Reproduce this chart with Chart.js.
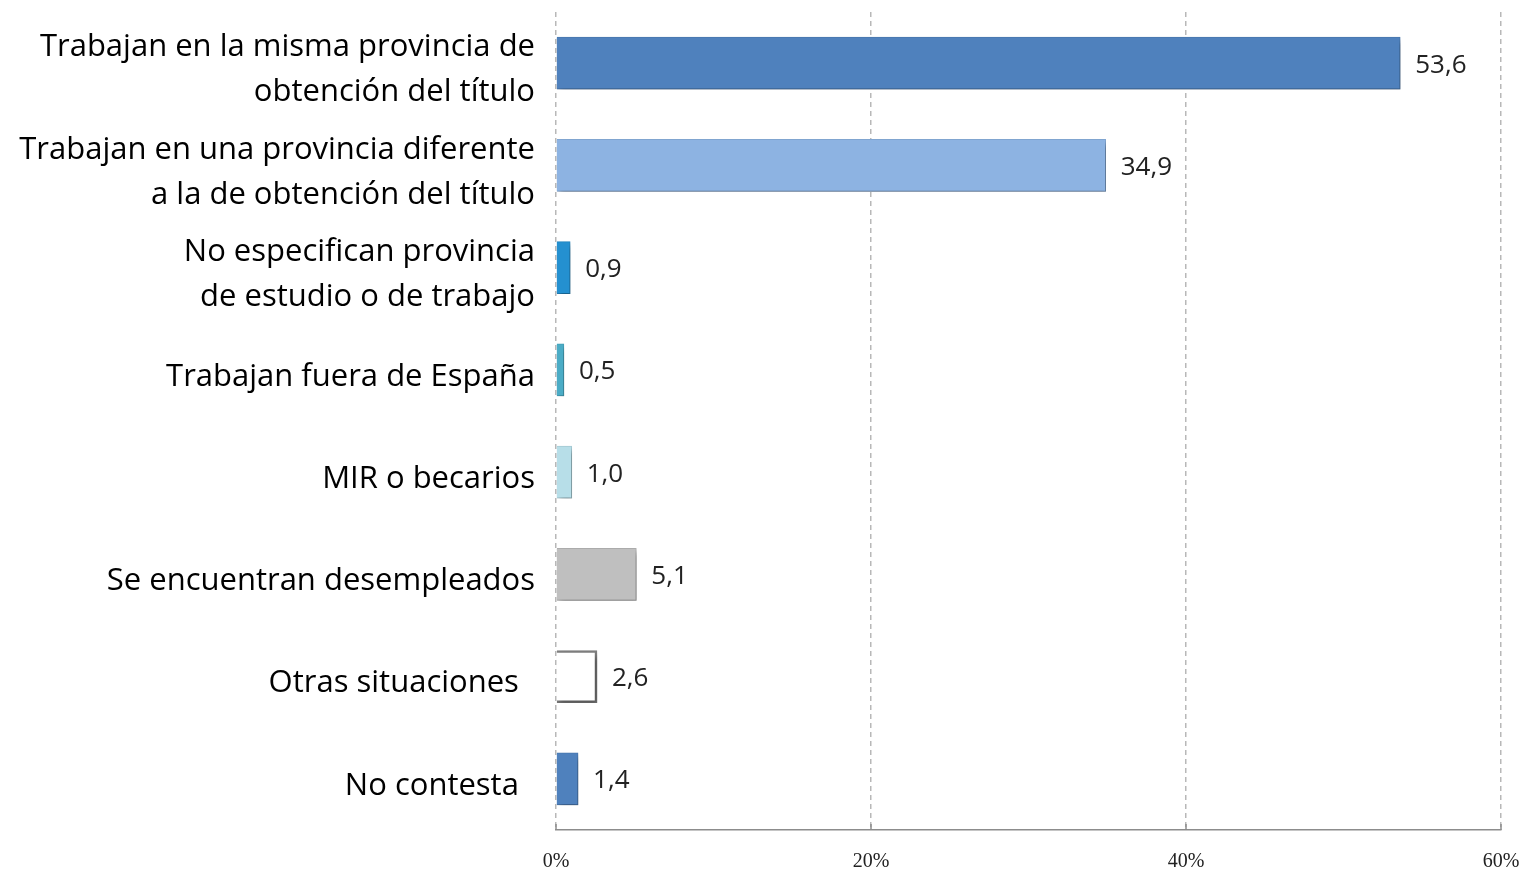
<!DOCTYPE html>
<html lang="es">
  <head>
    <meta charset="utf-8" />
    <title>Situación laboral según provincia</title>
    <script src="https://cdn.jsdelivr.net/npm/chart.js"></script>
    <style>
      body {
        margin: 0;
        background-color: #fff;
      }
      .chart-box {
        width: 1527px;
        height: 869px;
        position: relative;
      }
    </style>
  </head>
  <body>
    <div class="chart-box"><canvas id="situChart"></canvas></div>
    <script>
      // Datos
      const categorias = [
        ["Trabajan en la misma provincia de", "obtención del título"],
        ["Trabajan en una provincia diferente", "a la de obtención del título"],
        ["No especifican provincia", "de estudio o de trabajo"],
        "Trabajan fuera de España",
        "MIR o becarios",
        "Se encuentran desempleados",
        "Otras situaciones  ",
        "No contesta  ",
      ];
      const valores = [53.6, 34.9, 0.9, 0.5, 1.0, 5.1, 2.6, 1.4];
      const ticksX = [0, 20, 40, 60];

      const rellenos = [
        "#4f81bd",
        "#8db3e2",
        "#2490d0",
        "#4bacc6",
        "#b7dee8",
        "#bfbfbf",
        "#ffffff",
        "#4f81bd",
      ];
      const bordes = [
        "#4a7ab3",
        "#84a9d6",
        "#2288c4",
        "#46a3bb",
        "#a9cfd9",
        "#b0b0b0",
        "#7f7f7f",
        "#4a7ab3",
      ];
      const grosores = [1, 1, 1, 1, 1, 1, 2.5, 1];

      // sombra bajo las barras
      const sombraPlugin = {
        id: "sombra",
        beforeDatasetsDraw: (chart) => {
          const ctx = chart.ctx;
          ctx.save();
          ctx.shadowColor = "rgba(0, 0, 0, 0.35)";
          ctx.shadowBlur = 6;
          ctx.shadowOffsetX = 3;
          ctx.shadowOffsetY = 4;
        },
        afterDatasetsDraw: (chart) => {
          chart.ctx.restore();
        },
      };

      // etiquetas de valor + marcas cortas sobre el eje X
      const etiquetasPlugin = {
        id: "etiquetas",
        afterDraw: (chart) => {
          const ctx = chart.ctx;
          const meta = chart.getDatasetMeta(0);
          ctx.save();
          ctx.font = "26px 'Open Sans'";
          ctx.fillStyle = "#222";
          ctx.textAlign = "left";
          ctx.textBaseline = "middle";
          meta.data.forEach((bar, i) => {
            const txt = valores[i].toFixed(1).replace(".", ",");
            ctx.fillText(txt, bar.x + 15, bar.y + 2);
          });
          const xs = chart.scales.x;
          const base = chart.chartArea.bottom;
          ctx.strokeStyle = "#8c8c8c";
          ctx.lineWidth = 1.5;
          ticksX.forEach((v) => {
            const px = xs.getPixelForValue(v);
            ctx.beginPath();
            ctx.moveTo(px, base);
            ctx.lineTo(px, base - 6);
            ctx.stroke();
          });
          ctx.restore();
        },
      };

      new Chart(document.getElementById("situChart"), {
        type: "bar",
        data: {
          labels: categorias,
          datasets: [
            {
              data: valores,
              backgroundColor: rellenos,
              borderColor: bordes,
              borderWidth: grosores,
              barThickness: 52,
            },
          ],
        },
        plugins: [sombraPlugin, etiquetasPlugin],
        options: {
          indexAxis: "y",
          responsive: true,
          maintainAspectRatio: false,
          animation: false,
          plugins: {
            legend: { display: false },
            tooltip: { enabled: false },
          },
          layout: { padding: { top: 12, right: 26, left: 0, bottom: 0 } },
          scales: {
            x: {
              min: 0,
              max: 60,
              afterFit: (scale) => {
                scale.height = 39;
                scale.paddingLeft = 0;
                scale.paddingRight = 0;
              },
              afterBuildTicks: (scale) => {
                scale.ticks = ticksX.map((v) => ({ value: v }));
              },
              ticks: {
                padding: 20,
                color: "#222",
                font: { family: "Liberation Serif", size: 20 },
                callback: (v) => v + "%",
              },
              grid: {
                color: "#b8b8b8",
                lineWidth: 1.5,
                drawTicks: false,
              },
              border: { display: true, color: "#8c8c8c", width: 1.5, dash: [5, 4] },
            },
            y: {
              afterFit: (scale) => {
                scale.width = 556;
                scale.paddingTop = 0;
                scale.paddingBottom = 0;
              },
              ticks: {
                padding: 21,
                labelOffset: 7,
                color: "#000",
                font: { family: "Open Sans", size: 31, lineHeight: 1.45 },
              },
              grid: { display: false, drawTicks: false },
              border: { display: false },
            },
          },
        },
      });
    </script>
  </body>
</html>
